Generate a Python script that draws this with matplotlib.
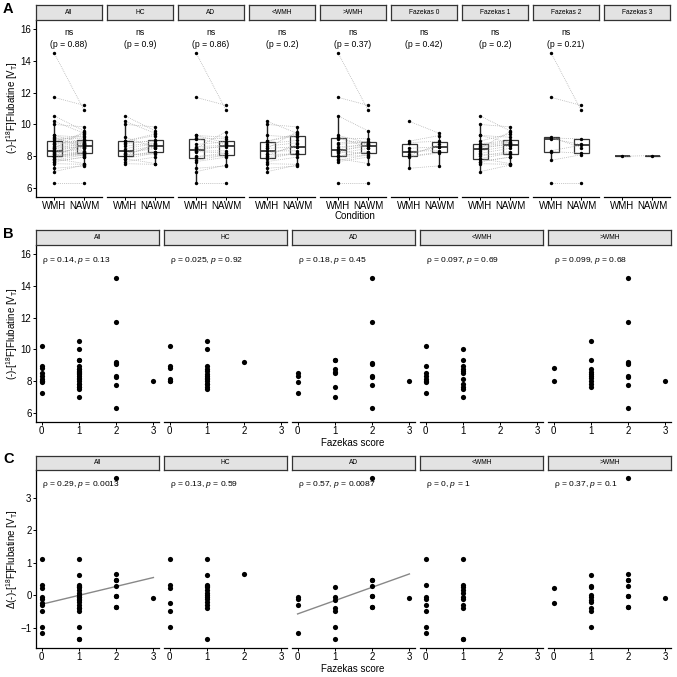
import numpy as np
import matplotlib
matplotlib.use("Agg")
import matplotlib.pyplot as plt

plt.rcParams['font.family'] = ['Liberation Sans', 'DejaVu Sans']
plt.rcParams['mathtext.fontset'] = 'custom'
plt.rcParams['mathtext.rm'] = 'Liberation Sans'
plt.rcParams['mathtext.it'] = 'Liberation Sans:italic'
plt.rcParams['mathtext.bf'] = 'Liberation Sans:bold'

# ---------------- data (one entry per subject) ----------------
group = ['HC', 'HC', 'HC', 'HC', 'HC', 'HC', 'AD', 'AD', 'AD', 'AD',
         'HC', 'HC', 'HC', 'HC', 'HC', 'HC', 'HC', 'HC',
         'HC', 'HC', 'HC', 'HC', 'HC', 'HC',
         'AD', 'AD', 'AD', 'AD', 'AD', 'AD', 'AD',
         'HC', 'AD', 'AD', 'AD', 'AD', 'AD', 'AD', 'AD', 'AD',
         'AD']
wmh_group = ['<WMH', '<WMH', '<WMH', '<WMH', '>WMH', '>WMH', '<WMH', '<WMH', '<WMH', '<WMH',
             '<WMH', '<WMH', '<WMH', '<WMH', '<WMH', '<WMH', '<WMH', '<WMH',
             '>WMH', '>WMH', '>WMH', '>WMH', '>WMH', '>WMH',
             '<WMH', '>WMH', '>WMH', '>WMH', '<WMH', '>WMH', '<WMH',
             '>WMH', '>WMH', '>WMH', '>WMH', '>WMH', '>WMH', '>WMH', '>WMH', '>WMH',
             '>WMH']
fazekas = [0, 0, 0, 0, 0, 0, 0, 0, 0, 0,
           1, 1, 1, 1, 1, 1, 1, 1,
           1, 1, 1, 1, 1, 1,
           1, 1, 1, 1, 1, 1, 1,
           2, 2, 2, 2, 2, 2, 2, 2, 2,
           3]
vt_wmh = [10.20, 8.95, 8.17, 8.03, 8.86, 8.02, 8.50, 8.33, 7.98, 7.25,
          10.00, 8.96, 8.79, 8.64, 8.12, 7.86, 7.67, 7.54,
          10.54, 8.48, 8.33, 8.19, 8.02, 7.86,
          9.31, 9.31, 8.75, 8.60, 8.50, 7.67, 7.04,
          9.20, 14.50, 11.70, 9.15, 9.10, 8.35, 8.30, 7.75, 6.30,
          8.00]
vt_nawm = [9.45, 9.30, 8.60, 8.75, 8.95, 8.25, 8.60, 8.35, 8.20, 7.40,
           9.85, 9.40, 9.00, 8.85, 8.15, 8.20, 7.95, 7.50,
           9.60, 8.80, 8.65, 8.50, 8.30, 7.55,
           9.20, 8.85, 8.90, 8.70, 9.55, 7.95, 7.45,
           8.55, 10.90, 11.20, 9.10, 8.75, 8.70, 8.20, 8.10, 6.30,
           8.05]
delta_vt = [1.11, 0.32, -0.47, -0.98, 0.22, -0.24, -0.06, -0.12, -0.29, -1.16,
            1.11, 0.32, 0.25, 0.17, 0.09, -0.12, -0.29, -1.35,
            0.63, 0.30, 0.02, -0.06, -0.19, -0.39,
            -1.35, -0.47, -0.96, 0.25, -0.39, -0.14, -0.06,
            0.66, 3.61, 0.48, 0.30, 0.48, -0.34, -0.34, -0.02, -0.02,
            -0.08]

facets_A = ['All', 'HC', 'AD', '<WMH', '>WMH', 'Fazekas 0', 'Fazekas 1', 'Fazekas 2', 'Fazekas 3']
labels_A = ['ns\n(p = 0.88)', 'ns\n(p = 0.9)', 'ns\n(p = 0.86)', 'ns\n(p = 0.2)', 'ns\n(p = 0.37)',
            'ns\n(p = 0.42)', 'ns\n(p = 0.2)', 'ns\n(p = 0.21)', '']
facets_BC = ['All', 'HC', 'AD', '<WMH', '>WMH']
rho_B = ['0.14', '0.025', '0.18', '0.097', '0.099']
p_B = ['0.13', '0.92', '0.45', '0.69', '0.68']
rho_C = ['0.29', '0.13', '0.57', '0', '0.37']
p_C = ['0.0013', '0.59', '0.0087', '1', '0.1']
fit_C = [True, False, True, False, False]
conditions = ['WMH', 'NAWM']
yticks_AB = [6, 8, 10, 12, 14, 16]
yticks_C = [-1, 0, 1, 2, 3]
xticks_BC = [0, 1, 2, 3]

group = np.array(group); wmh_group = np.array(wmh_group); fazekas = np.array(fazekas)
vt_wmh = np.array(vt_wmh); vt_nawm = np.array(vt_nawm); delta_vt = np.array(delta_vt)


def mask(name):
    if name == 'All':
        return np.ones(len(group), bool)
    if name in ('HC', 'AD'):
        return group == name
    if name in ('<WMH', '>WMH'):
        return wmh_group == name
    return fazekas == int(name.split()[-1])


W = H = 677
fig = plt.figure(figsize=(W / 100, H / 100), dpi=100)
fig.patch.set_facecolor('white')


def px_axes(x0, y0, x1, y1):
    return fig.add_axes([x0 / W, 1 - y1 / H, (x1 - x0) / W, (y1 - y0) / H])


def style(ax, first):
    for s in ['top', 'right']:
        ax.spines[s].set_visible(False)
    ax.spines['bottom'].set_linewidth(0.9)
    ax.spines['left'].set_linewidth(0.9)
    ax.tick_params(axis='both', labelsize=7, length=2.2, width=0.7, pad=1.0, colors='black')
    if not first:
        ax.spines['left'].set_visible(False)
        ax.tick_params(axis='y', left=False, labelleft=False)


def strip(x0, y0, x1, y1, txt):
    s = px_axes(x0, y0, x1, y1)
    s.set_xticks([]); s.set_yticks([])
    s.set_facecolor('#e3e3e3')
    for sp in s.spines.values():
        sp.set_linewidth(0.9)
        sp.set_color('#333333')
    s.text(0.5, 0.5, txt, ha='center', va='center', fontsize=4.8, transform=s.transAxes)


# ---------------- Panel A ----------------
for i, name in enumerate(facets_A):
    x0 = 36 + i * 71
    ax = px_axes(x0, 20, x0 + 66, 197)
    strip(x0, 5, x0 + 66, 19.5, name)
    m = mask(name)
    w = vt_wmh[m]; n = vt_nawm[m]
    ax.boxplot([w, n], positions=[1, 2], widths=0.5, showfliers=False, showcaps=False,
               patch_artist=True, whis=1.5,
               boxprops=dict(facecolor='white', edgecolor='#333333', linewidth=0.9),
               medianprops=dict(color='#333333', linewidth=1.3),
               whiskerprops=dict(color='#222222', linewidth=1.0), zorder=1)
    for a, b in zip(w, n):
        ax.plot([1, 2], [a, b], ls=(0, (1, 1.5)), color='#a8a8a8', lw=0.55, zorder=2)
    ax.scatter(np.ones(len(w)), w, s=6, color='black', zorder=3, linewidths=0)
    ax.scatter(np.full(len(n), 2), n, s=6, color='black', zorder=3, linewidths=0)
    ax.set_xlim(0.4, 2.6)
    ax.set_ylim(5.45, 16.55)
    ax.set_yticks(yticks_AB)
    ax.set_xticks([1, 2])
    ax.set_xticklabels(conditions)
    style(ax, i == 0)
    if labels_A[i]:
        ax.text(1.5, 15.4, labels_A[i], ha='center', va='center', fontsize=6.2, linespacing=1.35)

fig.text(12 / W, 1 - 108 / H, r'(-)-[$^{18}$F]Flubatine [V$_\mathrm{T}$]', rotation=90,
         ha='center', va='center', fontsize=7)
fig.text(355 / W, 1 - 216 / H, 'Condition', ha='center', va='center', fontsize=7)
fig.text(3 / W, 1 - 9 / H, 'A', ha='left', va='center', fontsize=10.5, fontweight='bold')


# ---------------- Panels B & C ----------------
def scatter_panel(ytop, ybot, stop, values, ylim, yticks, rhos, ps, fits, label_y, ylabel, letter, ly):
    for i, name in enumerate(facets_BC):
        x0 = 36 + i * 128
        ax = px_axes(x0, ytop, x0 + 123, ybot)
        strip(x0, stop, x0 + 123, ytop - 0.5, name)
        m = mask(name)
        fx = fazekas[m]; fy = values[m]
        ax.scatter(fx, fy, s=14, color='black', linewidths=0, zorder=3)
        if fits[i]:
            k, c = np.polyfit(fx, fy, 1)
            xs = np.array([0, 3])
            ax.plot(xs, k * xs + c, color='#888888', lw=1.0, zorder=2)
        ax.set_xlim(-0.15, 3.15)
        ax.set_ylim(*ylim)
        ax.set_xticks(xticks_BC)
        ax.set_yticks(yticks)
        style(ax, i == 0)
        ax.text(0, label_y, '\u03c1 = %s, $\\mathit{p}$ = %s' % (rhos[i], ps[i]),
                ha='left', va='center', fontsize=6.1)
    fig.text(12 / W, 1 - (ytop + ybot) / 2 / H, ylabel, rotation=90, ha='center', va='center', fontsize=7)
    fig.text(353 / W, 1 - (ybot + 21) / H, 'Fazekas score', ha='center', va='center', fontsize=7)
    fig.text(3 / W, 1 - ly / H, letter, ha='left', va='center', fontsize=10.5, fontweight='bold')


scatter_panel(245, 422, 230, vt_wmh, (5.45, 16.55), yticks_AB, rho_B, p_B, [False] * 5, 15.6,
              r'(-)-[$^{18}$F]Flubatine [V$_\mathrm{T}$]', 'B', 234)
scatter_panel(470, 648, 456, delta_vt, (-1.615, 3.86), yticks_C, rho_C, p_C, fit_C, 3.4,
              r'$\Delta$(-)-[$^{18}$F]Flubatine [V$_\mathrm{T}$]', 'C', 459)

fig.savefig('out.png', dpi=100, facecolor='white')
